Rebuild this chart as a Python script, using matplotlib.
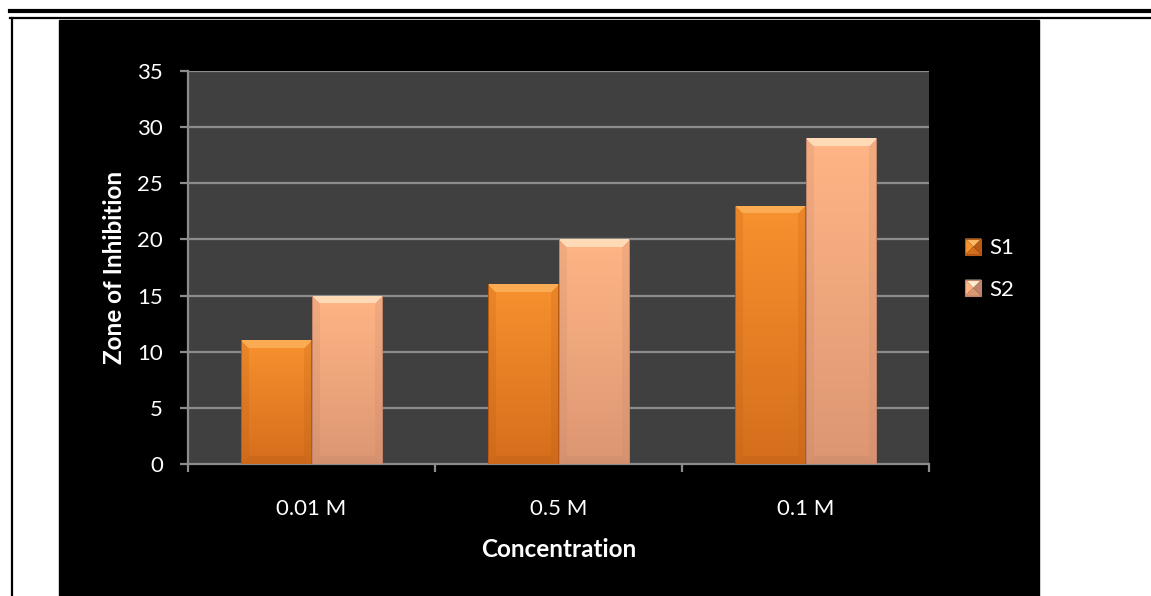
import matplotlib
matplotlib.use("Agg")
import matplotlib.pyplot as plt
import numpy as np
from matplotlib.colors import to_rgb
from matplotlib.patches import Rectangle, Polygon
from matplotlib.lines import Line2D
from matplotlib.legend_handler import HandlerBase

categories = ["0.01 M", "0.5 M", "0.1 M"]
series_names = ["S1", "S2"]
s1_values = [11, 16, 23]
s2_values = [15, 20, 29]
y_ticks = [0, 5, 10, 15, 20, 25, 30, 35]

# (top colour, bottom colour, bevel highlight, edge)
SERIES_STYLE = {
    "S1": ("#F8912E", "#D46E1C", "#FDB864", "#B85A14"),
    "S2": ("#FFB585", "#DC9672", "#FFEBCD", "#C0846A"),
}

FONT = ["Lato", "DejaVu Sans"]
plt.rcParams["font.family"] = FONT

W, H, DPI = 1151, 596, 100
fig = plt.figure(figsize=(W / DPI, H / DPI), dpi=DPI)
fig.patch.set_facecolor("white")

# black chart background + page rules
fig.patches.append(Rectangle((59 / W, 0), (1039 - 59) / W, 1 - 20 / H,
                             transform=fig.transFigure, color="black", zorder=-5))
fig.lines.append(Line2D([10 / W, 1], [1 - 10.5 / H] * 2, transform=fig.transFigure,
                        color="black", lw=3.0, zorder=-5))
fig.lines.append(Line2D([10 / W, 1], [1 - 18 / H] * 2, transform=fig.transFigure,
                        color="black", lw=1.6, zorder=-5))
fig.lines.append(Line2D([11.5 / W] * 2, [0, 1 - 18 / H], transform=fig.transFigure,
                        color="black", lw=1.6, zorder=-5))

ax = fig.add_axes([188 / W, 1 - 464 / H, (929 - 188) / W, (464 - 71) / H])
ax.set_zorder(2)
ax.set_facecolor("#404040")
ax.set_xlim(0, len(categories))
ax.set_ylim(0, 35)

bar_w = 1 / 3.5
x = np.arange(len(categories)) + 0.5

for yt in y_ticks[1:]:
    ax.axhline(yt, color="#8C8C8C", lw=1.6, zorder=1)


def shaded_bar(xc, val, name):
    top, bot, hi, edge = SERIES_STYLE[name]
    bars = ax.bar(xc, val, width=bar_w, color=top, edgecolor="none", zorder=2)
    patch = bars[0]
    # pixel size of bar to build bevel image
    p0 = ax.transData.transform((xc - bar_w / 2, 0))
    p1 = ax.transData.transform((xc + bar_w / 2, val))
    pw = max(int(round(p1[0] - p0[0])), 2)
    ph = max(int(round(p1[1] - p0[1])), 2)
    t = np.linspace(0, 1, ph)[:, None]
    ctop, cbot, chi, ced = (np.array(to_rgb(c)) for c in (top, bot, hi, edge))
    img = ctop[None, None, :] * (1 - t[..., None]) + cbot[None, None, :] * t[..., None]
    img = np.repeat(img, pw, axis=1)
    bev = 8
    yy, xx = np.mgrid[0:ph, 0:pw]
    d_side = np.minimum(xx, pw - 1 - xx)
    # top bevel (lighter)
    top_mask = (yy < bev) & (yy <= d_side)
    img[top_mask] = img[top_mask] * 0.3 + chi * 0.7
    # side bevels (slightly darker)
    side_mask = (d_side < bev) & ~top_mask & (ph - 1 - yy > d_side)
    img[side_mask] = img[side_mask] * 0.8 + ced * 0.2
    # bottom bevel (darker)
    bot_mask = (ph - 1 - yy < bev) & (ph - 1 - yy <= d_side)
    img[bot_mask] = img[bot_mask] * 0.7 + ced * 0.3
    # edge outline
    img[:, 0] = ced
    img[:, -1] = ced
    im = ax.imshow(img, extent=(xc - bar_w / 2, xc + bar_w / 2, 0, val),
                   aspect="auto", origin="upper", zorder=3, interpolation="bilinear")
    im.set_clip_path(patch)


for i, c in enumerate(categories):
    shaded_bar(x[i] - bar_w / 2, s1_values[i], "S1")
    shaded_bar(x[i] + bar_w / 2, s2_values[i], "S2")

ax.set_xlim(0, len(categories))
ax.set_ylim(0, 35)

for side in ("top", "right"):
    ax.spines[side].set_visible(False)
for side in ("left", "bottom"):
    ax.spines[side].set_color("#8C8C8C")
    ax.spines[side].set_linewidth(1.6)

ax.set_yticks(y_ticks)
ax.set_yticklabels([str(v) for v in y_ticks])
ax.set_xticks(np.arange(len(categories) + 1))
ax.set_xticklabels([])
ax.set_xticks(x, minor=True)
ax.set_xticklabels(categories, minor=True)
ax.tick_params(axis="x", which="major", length=6, width=1.6, color="#8C8C8C", direction="out")
ax.tick_params(axis="x", which="minor", length=0, pad=25, labelsize=16, labelcolor="white")
ax.tick_params(axis="y", length=6, width=1.6, color="#8C8C8C", direction="out",
               labelsize=16, labelcolor="white", pad=12)

ax.set_xlabel("Concentration", color="white", fontsize=17.5, fontweight="bold", labelpad=14)
ax.set_ylabel("Zone of Inhibition", color="white", fontsize=17.5, fontweight="bold", labelpad=8)


class BevelSquare(HandlerBase):
    def create_artists(self, legend, orig_handle, xd, yd, w, h, fontsize, trans):
        top, bot, hi, edge = orig_handle
        s = min(w, h)
        x0, y0 = xd + (w - s) / 2 - xd * 2, -yd
        cx, cy = x0 + s / 2, y0 + s / 2
        corners = [(x0, y0), (x0 + s, y0), (x0 + s, y0 + s), (x0, y0 + s)]
        faces = [bot, edge, hi, top]  # bottom, right, top, left
        arts = []
        for k, col in enumerate(faces):
            a, b = corners[k], corners[(k + 1) % 4]
            arts.append(Polygon([a, b, (cx, cy)], closed=True, facecolor=col,
                                edgecolor="none", transform=trans))
        arts.append(Rectangle((x0, y0), s, s, facecolor="none", edgecolor=edge,
                              lw=0.8, transform=trans))
        return arts


handles = [SERIES_STYLE[n] for n in series_names]
leg = fig.legend(handles, series_names, loc="center left",
                 bbox_to_anchor=(945 / W, 1 - 269 / H), frameon=False,
                 fontsize=16, labelcolor="white", handlelength=0.75, handleheight=0.75,
                 handletextpad=0.35, labelspacing=0.95,
                 handler_map={tuple: BevelSquare()})

fig.savefig("out.png", dpi=DPI, facecolor="white")
